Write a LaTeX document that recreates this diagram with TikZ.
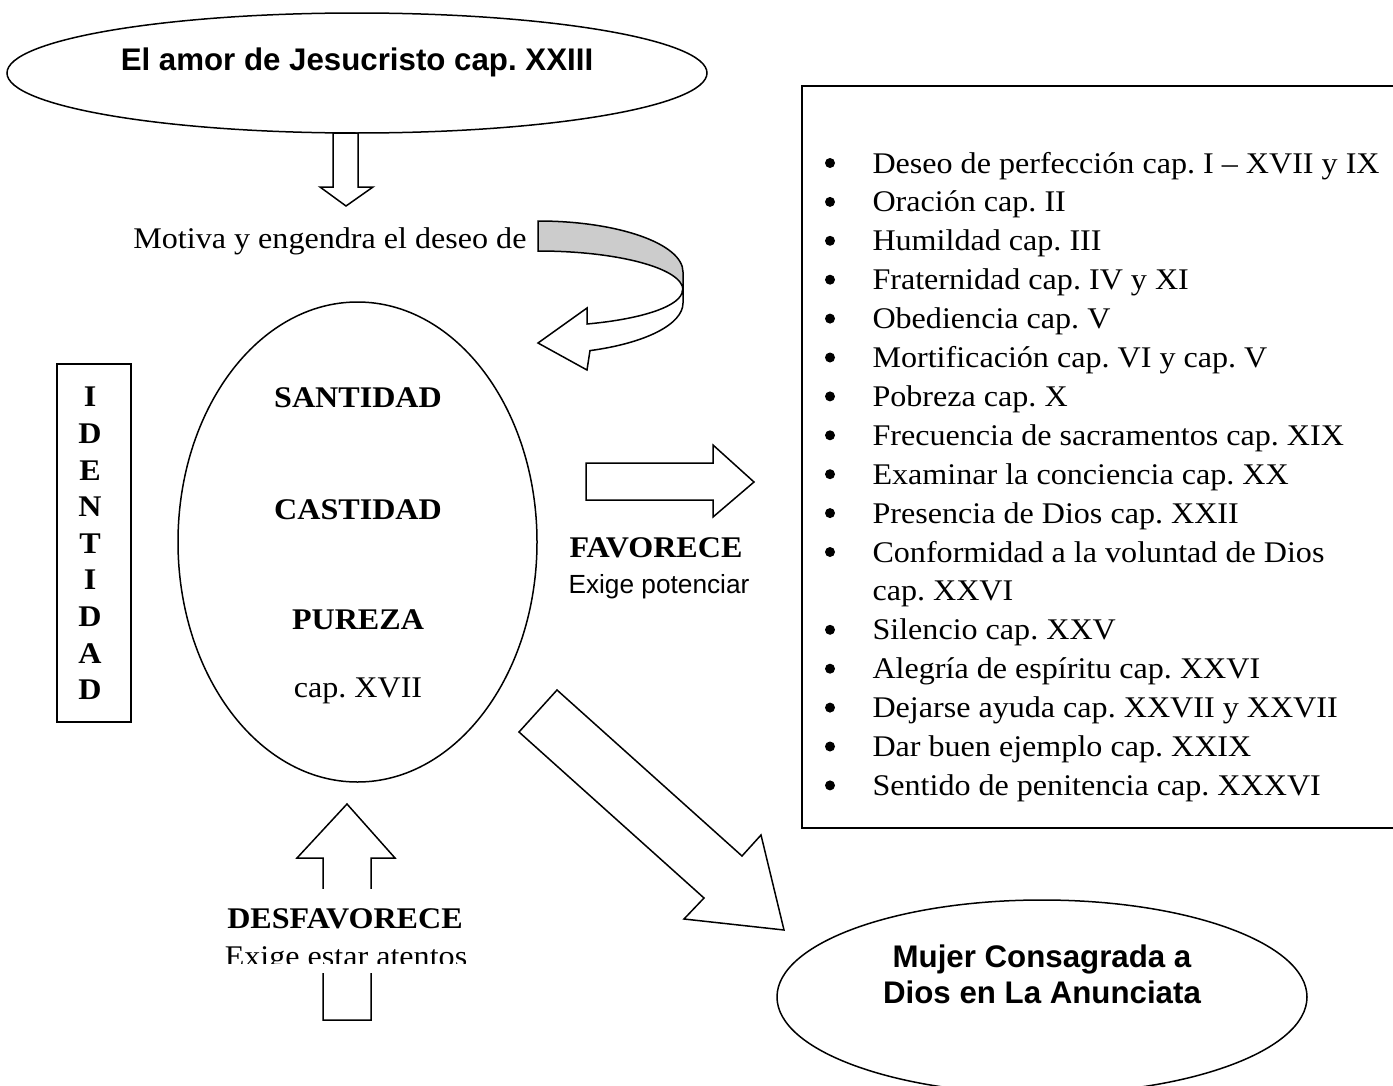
\documentclass[tikz,border=0pt]{standalone}
\usepackage{fontspec}
\setmainfont{Liberation Serif}[FakeStretch=1.07]
\setsansfont{Liberation Sans}
\frenchspacing

\begin{document}
\begin{tikzpicture}[x=0.4pt,y=-0.4pt]
		\tikzset{
			line/.style = {line width=0.6pt},
			serif/.style = {inner sep=0pt, font=\fontsize{12}{14}\selectfont},
			bold/.style = {inner sep=0pt, font=\fontsize{12}{14}\selectfont\bfseries},
			sansbold/.style = {inner sep=0pt, font=\fontsize{12.5}{15}\selectfont\sffamily\bfseries},
			sans/.style = {inner sep=0pt, font=\fontsize{10.5}{12}\selectfont\sffamily},
			bala/.style = {circle, fill, inner sep=0pt, minimum size=4pt}
		}
		\useasboundingbox (0,0) rectangle (1393,1086);
		% ovals
		\draw[line] (357,73) ellipse [x radius=350, y radius=60];
		\draw[line] (357.5,542) ellipse [x radius=179.5, y radius=240];
		\draw[line] (1042,997) ellipse [x radius=265, y radius=97];
		\node[sansbold] (amor) at (357,62) {El amor de Jesucristo cap. XXIII};
		\node[sansbold, anchor=base] (mujer) at (1042,967) {Mujer Consagrada a};
		\node[sansbold, anchor=base] (anunciata) at (1042,1003) {Dios en La Anunciata};
		% block arrows
		\draw[line, fill=white] (333,133) -- (333,187) -- (320,187) -- (346,206) -- (373,187) -- (358,187) -- (358,133) -- cycle;
		\draw[line, fill=white] (586,463) -- (713,463) -- (713,445) -- (754,482) -- (713,517) -- (713,500) -- (586,500) -- cycle;
		\draw[line, fill=white] (557,690) -- (742,856) -- (761,835) -- (784,930) -- (684,919) -- (704,898) -- (519,732) -- cycle;
		\draw[line, fill=white] (347,804) -- (395,858) -- (371,858) -- (371,1020) -- (323,1020) -- (323,858) -- (297,858) -- cycle;
		\filldraw[line, fill=gray!40] (538,221) arc (-90:0:145 and 51) -- (683,290) arc (0:-90:145 and 39) -- cycle;
		\filldraw[line, fill=white] (683,290) -- (683,303) arc (0:69:145 and 51) -- (587,370) -- (538,343) -- (587,308) -- (587,324) arc (70:0:145 and 36) -- cycle;
		\node[serif, anchor=base east] (motiva) at (527,248) {Motiva y engendra el deseo de};
		% centre
		\node[bold] (santidad) at (358,398) {SANTIDAD};
		\node[bold] (castidad) at (358,510) {CASTIDAD};
		\node[bold] (pureza) at (358,620) {PUREZA};
		\node[serif, anchor=base] (capxvii) at (358,697) {cap. XVII};
		\draw[line] (57,364) rectangle (131,722);
		\foreach \letra [count=\i from 0] in {I,D,E,N,T,I,D,A,D}
			\node[bold] (id\i) at (90,397+36.6*\i) {\letra};
		\node[bold, anchor=west] (favorece) at (569,548) {FAVORECE};
		\node[sans, anchor=west] (potenciar) at (568,587) {Exige potenciar};
		\fill[white] (215,889) rectangle (475,973);
		\node[bold] (desfavorece) at (345,919) {DESFAVORECE};
		\begin{scope}
			\clip (215,889) rectangle (475,963);
			\node[serif, anchor=base] (atentos) at (346,966) {Exige estar atentos};
		\end{scope}
		% list
		\draw[line] (802,86) rectangle (1400,828);
		\foreach \i/\texto in {0/Deseo de perfección cap. I – XVII y IX, 1/Oración cap. II,
				2/Humildad cap. III, 3/Fraternidad cap. IV y XI, 4/Obediencia cap. V,
				5/Mortificación cap. VI y cap. V, 6/Pobreza cap. X,
				7/Frecuencia de sacramentos cap. XIX, 8/Examinar la conciencia cap. XX,
				9/Presencia de Dios cap. XXII, 10/Conformidad a la voluntad de Dios,
				12/Silencio cap. XXV, 13/Alegría de espíritu cap. XXVI,
				14/Dejarse ayuda cap. XXVII y XXVII, 15/Dar buen ejemplo cap. XXIX,
				16/Sentido de penitencia cap. XXXVI}{
			\node[bala] (bala\i) at (830,163+38.9*\i) {};
			\node[serif, anchor=base west] (punto\i) at (872,173+38.9*\i) {\texto};
		}
		\node[serif, anchor=base west] (punto11) at (872,173+38.9*11) {cap. XXVI};
	\end{tikzpicture}
\end{document}
